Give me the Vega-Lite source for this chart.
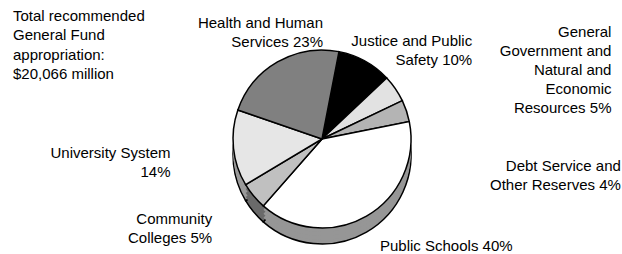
{
  "$schema": "https://vega.github.io/schema/vega-lite/v6.json",
  "autosize": "none",
  "width": 600,
  "height": 230,
  "padding": {"left": 22, "top": 24, "right": 0, "bottom": 0},
  "background": "white",
  "title": {
    "text": ["Total recommended", "General Fund", "appropriation:", "$20,066 million"],
    "anchor": "start",
    "frame": "group",
    "font": "Liberation Sans",
    "fontSize": 15,
    "fontWeight": "normal",
    "color": "black",
    "lineHeight": 19.5,
    "dx": -9,
    "offset": -88
  },
  "data": {
    "values": [
      {"category": "Justice", "pct": 10, "ord": 1, "label": "Justice and Public\nSafety 10%"},
      {"category": "GenGov", "pct": 5, "ord": 2, "label": "General\nGovernment and\nNatural and\nEconomic\nResources 5%"},
      {"category": "Debt", "pct": 4, "ord": 3, "label": "Debt Service and\nOther Reserves 4%"},
      {"category": "Public", "pct": 40, "ord": 4, "label": "Public Schools 40%"},
      {"category": "CC", "pct": 5, "ord": 5, "label": "Community\nColleges 5%"},
      {"category": "Univ", "pct": 14, "ord": 6, "label": "University System\n14%"},
      {"category": "Health", "pct": 23, "ord": 7, "label": "Health and Human\nServices 23%"}
    ]
  },
  "encoding": {
    "theta": {"field": "pct", "type": "quantitative", "stack": true, "scale": {"range": [0.192, 6.475]}},
    "order": {"field": "ord", "type": "quantitative"}
  },
  "layer": [
    {
      "mark": {"type": "arc", "radius": 89, "yOffset": 16, "stroke": "black", "strokeWidth": 1.5},
      "encoding": {"color": {"field": "category", "type": "nominal", "legend": null,
        "scale": {"domain": ["Justice", "GenGov", "Debt", "Public", "CC", "Univ", "Health"],
                  "range": ["#000000", "#a8a8a8", "#8a8a8a", "#969696", "#6a6a6a", "#9a9a9a", "#606060"]}}}
    },
    {
      "mark": {"type": "arc", "radius": 89, "yOffset": 12},
      "encoding": {"color": {"field": "category", "type": "nominal", "legend": null,
        "scale": {"domain": ["Justice", "GenGov", "Debt", "Public", "CC", "Univ", "Health"],
                  "range": ["#000000", "#a8a8a8", "#8a8a8a", "#969696", "#6a6a6a", "#9a9a9a", "#606060"]}}}
    },
    {
      "mark": {"type": "arc", "radius": 89, "yOffset": 8},
      "encoding": {"color": {"field": "category", "type": "nominal", "legend": null,
        "scale": {"domain": ["Justice", "GenGov", "Debt", "Public", "CC", "Univ", "Health"],
                  "range": ["#000000", "#a8a8a8", "#8a8a8a", "#969696", "#6a6a6a", "#9a9a9a", "#606060"]}}}
    },
    {
      "mark": {"type": "arc", "radius": 89, "yOffset": 4},
      "encoding": {"color": {"field": "category", "type": "nominal", "legend": null,
        "scale": {"domain": ["Justice", "GenGov", "Debt", "Public", "CC", "Univ", "Health"],
                  "range": ["#000000", "#a8a8a8", "#8a8a8a", "#969696", "#6a6a6a", "#9a9a9a", "#606060"]}}}
    },
    {
      "mark": {"type": "arc", "radius": 89, "stroke": "black", "strokeWidth": 1.5},
      "encoding": {"fill": {"field": "category", "type": "nominal", "legend": null,
        "scale": {"domain": ["Justice", "GenGov", "Debt", "Public", "CC", "Univ", "Health"],
                  "range": ["#000000", "#e2e2e2", "#b4b4b4", "#ffffff", "#c0c0c0", "#e6e6e6", "#808080"]}}}
    },
    {
      "mark": {"type": "text", "radius": 100, "align": "right", "baseline": "top", "dx": 51, "dy": -36, "lineBreak": "\n", "lineHeight": 19, "font": "Liberation Sans", "fontSize": 15, "fill": "black"},
      "encoding": {"text": {"condition": {"test": "datum.ord == 7", "field": "label"}, "value": ""}}
    },
    {
      "mark": {"type": "text", "radius": 100, "align": "right", "baseline": "top", "dx": 102, "dy": -17, "lineBreak": "\n", "lineHeight": 19, "font": "Liberation Sans", "fontSize": 15, "fill": "black"},
      "encoding": {"text": {"condition": {"test": "datum.ord == 1", "field": "label"}, "value": ""}}
    },
    {
      "mark": {"type": "text", "radius": 100, "align": "right", "baseline": "top", "dx": 207, "dy": -57, "lineBreak": "\n", "lineHeight": 19, "font": "Liberation Sans", "fontSize": 15, "fill": "black"},
      "encoding": {"text": {"condition": {"test": "datum.ord == 2", "field": "label"}, "value": ""}}
    },
    {
      "mark": {"type": "text", "radius": 100, "align": "right", "baseline": "top", "dx": 204, "dy": 52, "lineBreak": "\n", "lineHeight": 19, "font": "Liberation Sans", "fontSize": 15, "fill": "black"},
      "encoding": {"text": {"condition": {"test": "datum.ord == 3", "field": "label"}, "value": ""}}
    },
    {
      "mark": {"type": "text", "radius": 100, "align": "left", "baseline": "top", "dx": 8, "dy": 13, "lineBreak": "\n", "lineHeight": 19, "font": "Liberation Sans", "fontSize": 15, "fill": "black"},
      "encoding": {"text": {"condition": {"test": "datum.ord == 4", "field": "label"}, "value": ""}}
    },
    {
      "mark": {"type": "text", "radius": 100, "align": "right", "baseline": "top", "dx": -33, "dy": 9, "lineBreak": "\n", "lineHeight": 19, "font": "Liberation Sans", "fontSize": 15, "fill": "black"},
      "encoding": {"text": {"condition": {"test": "datum.ord == 5", "field": "label"}, "value": ""}}
    },
    {
      "mark": {"type": "text", "radius": 100, "align": "right", "baseline": "top", "dx": -52, "dy": -3, "lineBreak": "\n", "lineHeight": 19, "font": "Liberation Sans", "fontSize": 15, "fill": "black"},
      "encoding": {"text": {"condition": {"test": "datum.ord == 6", "field": "label"}, "value": ""}}
    }
  ],
  "resolve": {"scale": {"color": "independent"}},
  "config": {"view": {"stroke": null}}
}
